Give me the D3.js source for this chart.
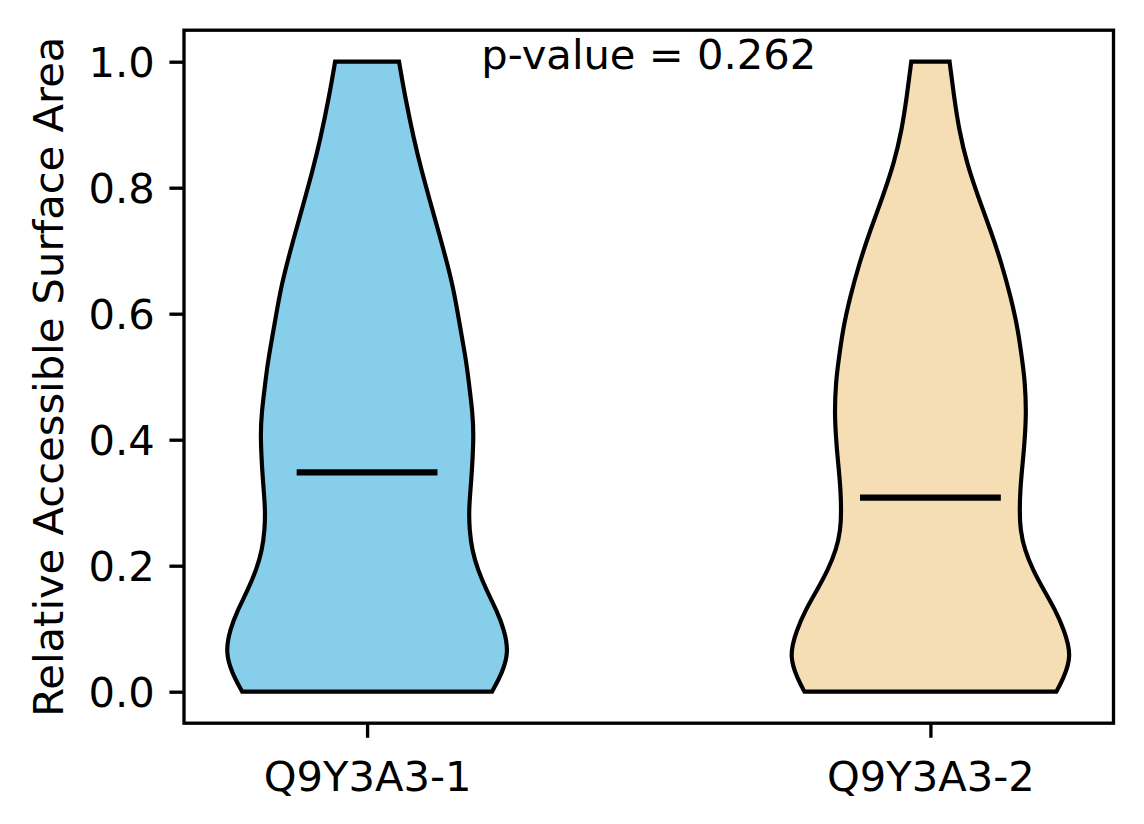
<!DOCTYPE html>
<html>
<head>
<meta charset="utf-8">
<script src="https://cdn.jsdelivr.net/npm/d3@7"></script>
<style>
  html, body { margin: 0; padding: 0; background: #ffffff; }
  svg { display: block; }
  text { font-family: "DejaVu Sans", sans-serif; fill: #000; }
</style>
</head>
<body>
<svg id="chart" width="1144" height="824"></svg>
<script>
// ---- data ----
const categories = ["Q9Y3A3-1", "Q9Y3A3-2"];
const colors = ["#87CEEB", "#F5DEB3"];
const means = [0.348, 0.308];
const yTicks = [0.0, 0.2, 0.4, 0.6, 0.8, 1.0];
const pValueText = "p-value = 0.262";
const yLabel = "Relative Accessible Surface Area";

// density profile of violin 1 (value, relative density)
const kdeValues1 = [0, 0.030, 0.062, 0.098, 0.130, 0.161, 0.193, 0.225, 0.257, 0.288, 0.320, 0.352, 0.404, 0.442, 0.495, 0.522, 0.590, 0.638, 0.685, 0.733, 0.780, 0.828, 0.876, 0.944, 1.0];
const kdeDensity1 = [0.887, 0.960, 1.005, 0.975, 0.918, 0.848, 0.787, 0.745, 0.727, 0.723, 0.734, 0.745, 0.757, 0.750, 0.720, 0.706, 0.652, 0.615, 0.563, 0.504, 0.445, 0.386, 0.333, 0.270, 0.227];
// density profile of violin 2
const kdeValues2 = [0, 0.019, 0.056, 0.098, 0.130, 0.161, 0.193, 0.225, 0.257, 0.288, 0.320, 0.352, 0.388, 0.442, 0.495, 0.522, 0.574, 0.626, 0.680, 0.732, 0.784, 0.839, 0.891, 0.944, 1.0];
const kdeDensity2 = [0.894, 0.940, 1.005, 0.950, 0.886, 0.806, 0.728, 0.669, 0.638, 0.633, 0.638, 0.650, 0.666, 0.682, 0.670, 0.654, 0.623, 0.571, 0.505, 0.428, 0.341, 0.258, 0.204, 0.168, 0.136];

const profiles = [
  kdeValues1.map((v, i) => ({ v, d: kdeDensity1[i] })),
  kdeValues2.map((v, i) => ({ v, d: kdeDensity2[i] }))
];

// ---- layout ----
const svg = d3.select("#chart");
const L = 184, R = 1113.5, T = 30.2, B = 723.2;
const dpiScale = 300 / 72;
const fontPx = 10 * dpiScale;
const spineW = 0.8 * dpiScale;
const tickLen = 3.5 * dpiScale;
const tickPad = 3.5 * dpiScale;

const x = d3.scaleLinear().domain([0.675, 2.325]).range([L, R]);
const y = d3.scaleLinear().domain([-0.05, 1.05]).range([B, T]);
const halfWidth = 0.25; // violin half width in data units (widths = 0.5)
const wScale = d3.scaleLinear().domain([0, 1]).range([0, x(1 + halfWidth) - x(1)]);

svg.append("rect").attr("width", 1144).attr("height", 824).attr("fill", "#fff");

// violins
const area = d3.area()
  .curve(d3.curveBasis)
  .y(d => y(d.v));

profiles.forEach((prof, i) => {
  const cx = x(i + 1);
  svg.append("path")
    .datum(prof)
    .attr("d", area.x0(d => cx - wScale(d.d)).x1(d => cx + wScale(d.d)))
    .attr("fill", colors[i])
    .attr("stroke", "#000")
    .attr("stroke-width", 1.0 * dpiScale)
    .attr("stroke-linejoin", "miter");
});

// mean lines
svg.selectAll("line.mean")
  .data(means)
  .enter().append("line")
  .attr("class", "mean")
  .attr("x1", (d, i) => x(i + 1 - halfWidth / 2))
  .attr("x2", (d, i) => x(i + 1 + halfWidth / 2))
  .attr("y1", d => y(d))
  .attr("y2", d => y(d))
  .attr("stroke", "#000")
  .attr("stroke-width", 1.5 * dpiScale);

// axes frame
svg.append("rect")
  .attr("x", L).attr("y", T)
  .attr("width", R - L).attr("height", B - T)
  .attr("fill", "none")
  .attr("stroke", "#000")
  .attr("stroke-width", spineW);

// y axis
const yAxis = d3.axisLeft(y)
  .tickValues(yTicks)
  .tickFormat(d3.format(".1f"))
  .tickSize(tickLen)
  .tickPadding(tickPad);
const gy = svg.append("g").attr("transform", `translate(${L},0)`).call(yAxis);
gy.select(".domain").remove();
gy.selectAll(".tick line").attr("stroke", "#000").attr("stroke-width", spineW);
gy.selectAll(".tick text")
  .attr("font-size", fontPx)
  .attr("font-family", "DejaVu Sans")
  .attr("fill", "#000")
  .attr("dy", "0.36em");

// x axis
const xAxis = d3.axisBottom(x)
  .tickValues([1, 2])
  .tickFormat((d, i) => categories[i])
  .tickSize(tickLen)
  .tickPadding(tickPad);
const gx = svg.append("g").attr("transform", `translate(0,${B})`).call(xAxis);
gx.select(".domain").remove();
gx.selectAll(".tick line").attr("stroke", "#000").attr("stroke-width", spineW);
gx.selectAll(".tick text")
  .attr("font-size", fontPx)
  .attr("font-family", "DejaVu Sans")
  .attr("fill", "#000")
  .attr("dy", "0.93em");

// y label
svg.append("text")
  .attr("transform", `translate(63,${(T + B) / 2}) rotate(-90)`)
  .attr("text-anchor", "middle")
  .attr("font-size", fontPx)
  .text(yLabel);

// p-value annotation
svg.append("text")
  .attr("x", x(1.5))
  .attr("y", y(1.0) + 7)
  .attr("text-anchor", "middle")
  .attr("font-size", fontPx)
  .text(pValueText);
</script>
</body>
</html>
